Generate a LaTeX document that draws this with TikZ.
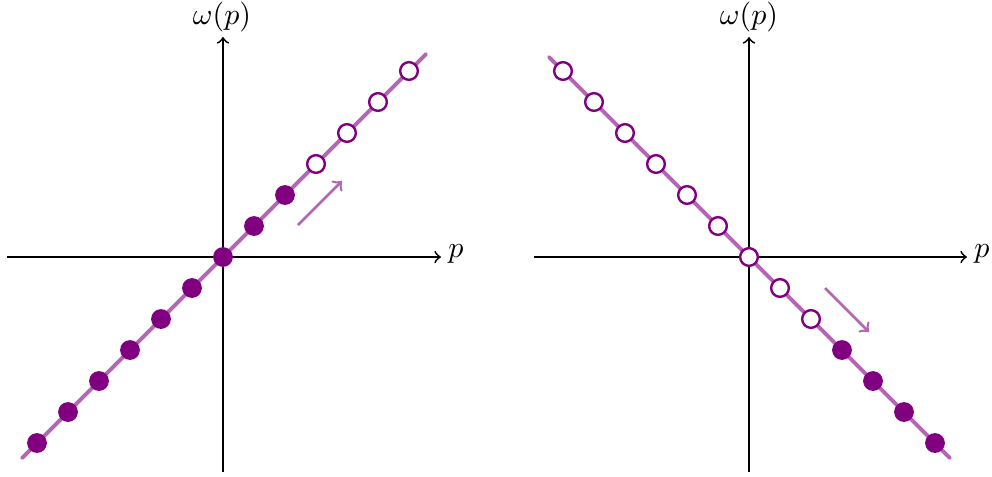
\documentclass[tikz,border=0pt]{standalone}
\begin{document}
\begin{tikzpicture}[x=0.3333pt,y=-0.3333pt,
  axis/.style={line width=0.6pt,->},
  band/.style={draw=lcol,line width=1.3pt,line cap=round},
  full/.style={circle,fill=dcol,inner sep=0pt,minimum size=6.6pt},
  empty/.style={circle,draw=dcol,fill=white,line width=0.8pt,inner sep=0pt,minimum size=5.9pt},
  flow/.style={draw=lcol,line width=0.85pt,->}]
\definecolor{dcol}{RGB}{128,0,128}
\colorlet{lcol}{dcol!60}
\useasboundingbox (0,0) rectangle (992,476);
% left panel
\coordinate (lxs) at (7,257); \coordinate (lxe) at (441,257);
\coordinate (lys) at (223,472); \coordinate (lye) at (223,37);
\draw[axis] (lxs) -- (lxe);
\draw[axis] (lys) -- (lye);
\node (lp) at (456,254) {$p$};
\node (lw) at (222,17) {$\omega(p)$};
\coordinate (la) at (22,458); \coordinate (lb) at (426,54);
\draw[band] (la) -- (lb);
\foreach \i in {-6,...,2} \node[full] (lf\i) at (223+31*\i,257-31*\i) {};
\foreach \i in {3,...,6} \node[empty] (le\i) at (223+31*\i,257-31*\i) {};
\coordinate (lar1) at (298,225); \coordinate (lar2) at (342,181);
\draw[flow] (lar1) -- (lar2);
% right panel
\coordinate (rxs) at (534,257); \coordinate (rxe) at (967,257);
\coordinate (rys) at (749,472); \coordinate (rye) at (749,37);
\draw[axis] (rxs) -- (rxe);
\draw[axis] (rys) -- (rye);
\node (rp) at (982,254) {$p$};
\node (rw) at (749,17) {$\omega(p)$};
\coordinate (ra) at (549,57); \coordinate (rb) at (950,458);
\draw[band] (ra) -- (rb);
\foreach \i in {-6,...,2} \node[empty] (re\i) at (749+31*\i,257+31*\i) {};
\foreach \i in {3,...,6} \node[full] (rf\i) at (749+31*\i,257+31*\i) {};
\coordinate (rar1) at (825,288); \coordinate (rar2) at (869,332);
\draw[flow] (rar1) -- (rar2);
\end{tikzpicture}
\end{document}
